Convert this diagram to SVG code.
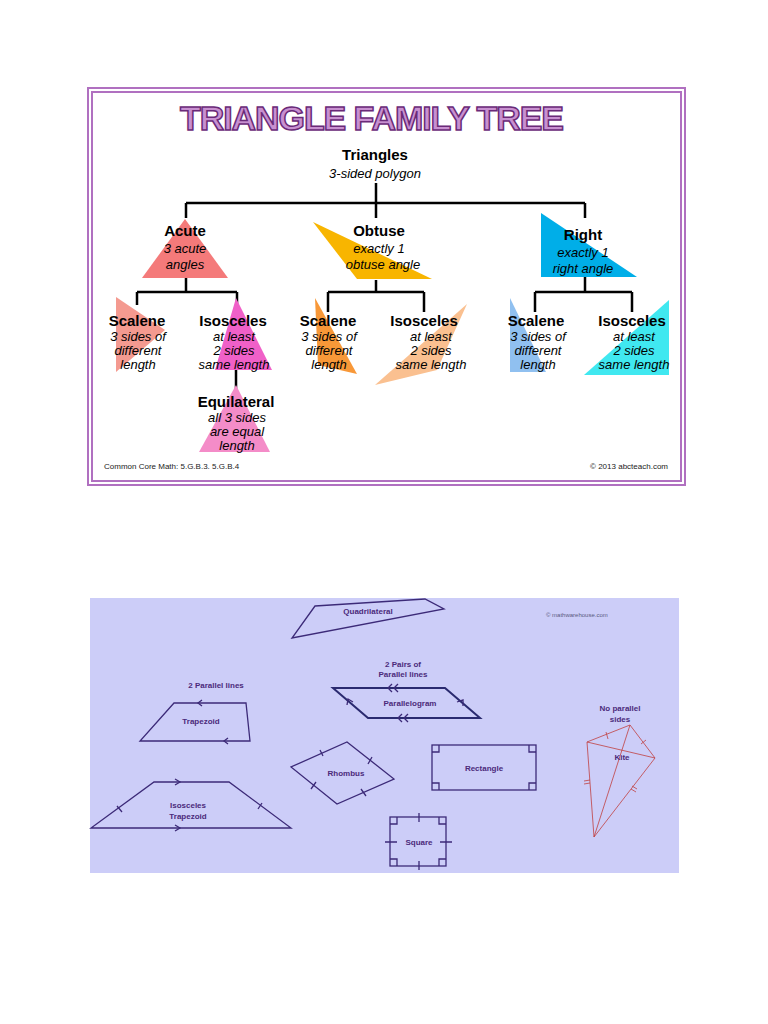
<svg xmlns="http://www.w3.org/2000/svg" width="768" height="1024" viewBox="0 0 768 1024">
<style>
.h{font-family:"Liberation Sans",Arial,sans-serif;font-weight:bold;font-size:15px;fill:#000;text-anchor:middle}
.s{font-family:"Liberation Sans",Arial,sans-serif;font-style:italic;font-size:13px;fill:#000;text-anchor:middle}
.t{stroke:#000;stroke-width:2.5;fill:none}
.q{font-family:"Liberation Sans",Arial,sans-serif;font-weight:bold;font-size:8px;fill:#4b2a7b;text-anchor:middle}
.ql{stroke:#2a2a70;stroke-width:2;fill:none}
.qs{stroke:#3c2a78;stroke-width:1.3;fill:none}
</style>
<rect width="768" height="1024" fill="#fff"/>
<g id="triangle-panel">
<rect x="88" y="88" width="597" height="397" fill="#fff" stroke="#b070c0" stroke-width="2"/>
<rect x="92" y="92" width="589" height="389" fill="none" stroke="#b070c0" stroke-width="2"/>
<text x="372" y="130" font-family="Liberation Sans,Arial,sans-serif" font-weight="bold" font-size="34" fill="#c890d0" stroke="#6a2a78" stroke-width="1.5" text-anchor="middle" textLength="384">TRIANGLE FAMILY TREE</text>
</g>
<g id="connectors">
<path class="t" d="M376 183V203M186 203H585M186 203V218M376 203V218M585 203V218"/>
<path class="t" d="M186 278V292M137 292H237M137 292V305M237 292V305M236 370V390"/>
<path class="t" d="M376 280V292M328 292H424M328 292V312M424 292V312"/>
<path class="t" d="M585 277V292M535 292H632M535 292V312M632 292V312"/>
<path class="ql" d="M285 646L246 674M366 628V656M417 624L594 689M197 750V773M360 722L349 738M444 723L455 740M382 795L394 812M453 798L442 813"/>
</g>
<g id="triangles"><text class="h" x="375" y="160">Triangles</text><text class="s" x="375" y="178" font-size="15">3-sided polygon</text></g>
<g id="acute"><polygon points="185,219 228,278 142,278" fill="#f47a7a"/><text class="h" x="185" y="236">Acute</text><text class="s" x="185" y="253">3 acute</text><text class="s" x="185" y="269">angles</text></g>
<g id="obtuse"><polygon points="313,222 432,279 357,279" fill="#f8b500"/><text class="h" x="379" y="236">Obtuse</text><text class="s" x="379" y="253">exactly 1</text><text class="s" x="383" y="269">obtuse angle</text></g>
<g id="right"><polygon points="541,213 541,277 637,277" fill="#00aee8"/><text class="h" x="583" y="240">Right</text><text class="s" x="583" y="257">exactly 1</text><text class="s" x="583" y="273">right angle</text></g>
<g id="acute-scalene"><polygon points="116,297 165,330 116,372" fill="#f49a90"/><text class="h" x="137" y="326">Scalene</text><text class="s" x="138" y="341">3 sides of</text><text class="s" x="138" y="355">different</text><text class="s" x="138" y="369">length</text></g>
<g id="acute-isosceles"><polygon points="236,298 272,370 215,370" fill="#f060c8"/><text class="h" x="233" y="326">Isosceles</text><text class="s" x="234" y="341">at least</text><text class="s" x="234" y="355">2 sides</text><text class="s" x="234" y="369">same length</text></g>
<g id="equilateral"><polygon points="236,385 270,452 199,452" fill="#f48cc8"/><text class="h" x="236" y="407">Equilateral</text><text class="s" x="237" y="422">all 3 sides</text><text class="s" x="237" y="436">are equal</text><text class="s" x="237" y="450">length</text></g>
<g id="obtuse-scalene"><polygon points="315,298 357,374 318,365" fill="#f89838"/><text class="h" x="328" y="326">Scalene</text><text class="s" x="329" y="341">3 sides of</text><text class="s" x="329" y="355">different</text><text class="s" x="329" y="369">length</text></g>
<g id="obtuse-isosceles"><polygon points="467,304 375,385 437,370" fill="#fac090"/><text class="h" x="424" y="326">Isosceles</text><text class="s" x="431" y="341">at least</text><text class="s" x="431" y="355">2 sides</text><text class="s" x="431" y="369">same length</text></g>
<g id="right-scalene"><polygon points="510,298 510,372 546,372" fill="#90c0f0"/><text class="h" x="536" y="326">Scalene</text><text class="s" x="538" y="341">3 sides of</text><text class="s" x="538" y="355">different</text><text class="s" x="538" y="369">length</text></g>
<g id="right-isosceles"><polygon points="669,300 669,375 584,375" fill="#40e8f0"/><text class="h" x="632" y="326">Isosceles</text><text class="s" x="634" y="341">at least</text><text class="s" x="634" y="355">2 sides</text><text class="s" x="634" y="369">same length</text></g>
<g id="footer"><text x="104" y="469" font-family="Liberation Sans,Arial,sans-serif" font-size="8" fill="#222">Common Core Math: 5.G.B.3. 5.G.B.4</text><text x="668" y="469" font-family="Liberation Sans,Arial,sans-serif" font-size="8" fill="#222" text-anchor="end">© 2013 abcteach.com</text></g>

<rect x="90" y="598" width="589" height="275" fill="#cccdf8"/>
<g id="quadrilateral"><polygon class="qs" points="315,606 425,599 444,609 292,638" stroke-width="0.8"/><text class="q" x="368" y="614">Quadrilateral</text><text x="546" y="617" font-family="Liberation Sans,Arial,sans-serif" font-size="6" fill="#5a5a80">©  mathwarehouse.com</text></g>
<g id="two-parallel"><text class="q" x="216" y="688">2 Parallel lines</text></g>
<g id="two-pairs"><text class="q" x="403" y="667">2 Pairs of</text><text class="q" x="403" y="677">Parallel lines</text></g>
<g id="no-parallel"><text class="q" x="620" y="711">No parallel</text><text class="q" x="620" y="722">sides</text></g>
<g id="trapezoid"><polygon class="qs" points="174,703 246,703 250,741 140,741" stroke-width="0.8"/><path class="qs" stroke-width="0.8" d="M202 700L198 703L202 706M228 738L224 741L228 744"/><text class="q" x="201" y="724">Trapezoid</text></g>
<g id="isosceles-trapezoid"><polygon class="qs" points="154,782 229,782 291,828 91,828"/><path class="qs" d="M175 779L180 782L175 785M175 825L180 828L175 831M117 806L122 812M258 809L262 803"/><text class="q" x="188" y="808">Isosceles</text><text class="q" x="188" y="819">Trapezoid</text></g>
<g id="parallelogram"><polygon class="ql" points="333,688 445,688 480,718 368,718"/><path class="qs" d="M392 684L388 688L392 692M398 684L394 688L398 692M402 714L398 718L402 722M408 714L404 718L408 722M347 705L348 699L353 702M463 706L463 700L457 702"/><text class="q" x="410" y="706">Parallelogram</text></g>
<g id="rhombus"><polygon class="qs" points="347,742 394,779 337,804 291,767" stroke-width="1.6"/><path class="qs" d="M320 750L323 756M372 757L368 764M316 782L311 789M361 789L366 796"/><text class="q" x="346" y="776">Rhombus</text></g>
<g id="rectangle"><rect class="qs" x="432" y="745" width="104" height="45" stroke-width="1.6"/><path class="qs" stroke-width="0.8" d="M432 752H439V745M529 745V752H536M432 783H439V790M529 790V783H536"/><text class="q" x="484" y="771">Rectangle</text></g>
<g id="square"><rect class="qs" x="390" y="817" width="56" height="49" stroke-width="1.6"/><path class="qs" stroke-width="0.8" d="M390 824H397V817M439 817V824H446M390 859H397V866M439 866V859H446M419 813V822M419 861V870M385 842H397M440 842H452"/><text class="q" x="419" y="845">Square</text></g>
<g id="kite"><path fill="none" stroke="#c04040" stroke-width="0.8" d="M630 725L587 742L594 837L655 758ZM630 725L594 837M587 742L655 758"/><path fill="none" stroke="#c04040" stroke-width="0.8" d="M606 732L608 739M641 744L646 740M584 781L590 780M584 784L590 783M631 789L636 792M632 786L637 789"/><text class="q" x="622" y="760">Kite</text></g>
</svg>
